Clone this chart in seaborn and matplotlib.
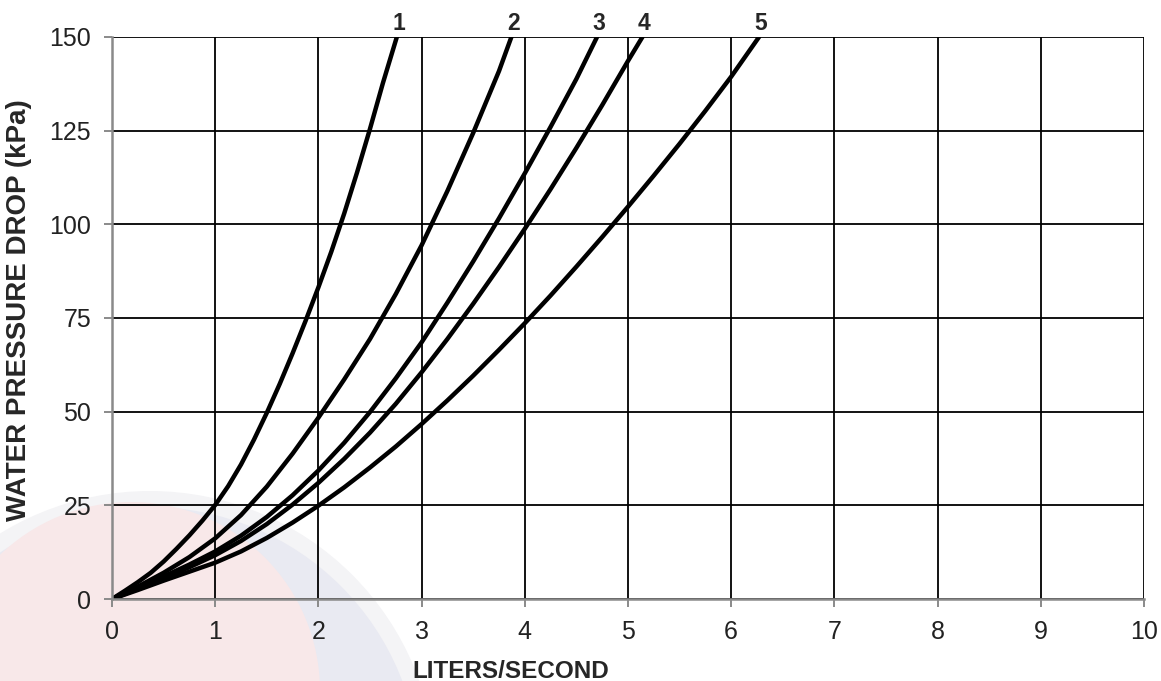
import pandas as pd
import seaborn as sns
import matplotlib.pyplot as plt
from matplotlib.patches import Circle

# curve data (liters/second vs kPa)
x1 = [0, 0.125, 0.25, 0.375, 0.5, 0.625, 0.75, 0.875, 1.0, 1.125, 1.25, 1.375, 1.5,
      1.625, 1.75, 1.875, 2.0, 2.125, 2.25, 2.375, 2.5, 2.625, 2.76]
y1 = [0, 2.2, 4.5, 7, 10, 13.4, 17, 20.9, 25.1, 30.1, 35.9, 42.5, 49.7,
      57.4, 65.6, 74.2, 83.2, 92.7, 102.9, 113.9, 125.5, 137.7, 150]
x2 = [0, 0.25, 0.5, 0.75, 1.0, 1.25, 1.5, 1.75, 2.0, 2.25, 2.5, 2.75, 3.0, 3.25, 3.5, 3.75, 3.87]
y2 = [0, 3.3, 7, 11.2, 16.2, 22.4, 30, 38.8, 48.4, 58.6, 69.4, 81.4, 94.4, 108.9, 124.4, 140.9, 150]
x3 = [0, 0.25, 0.5, 0.75, 1.0, 1.25, 1.5, 1.75, 2.0, 2.25, 2.5, 2.75, 3.0, 3.25, 3.5, 3.75,
      4.0, 4.25, 4.5, 4.7]
y3 = [0, 3, 6, 9.2, 12.7, 16.9, 21.9, 27.7, 34.3, 41.7, 49.9, 58.9, 68.5, 79.1, 90.1, 101.6,
      113.6, 126, 138.8, 150]
x4 = [0, 0.25, 0.5, 0.75, 1.0, 1.25, 1.5, 1.75, 2.0, 2.25, 2.5, 2.75, 3.0, 3.25, 3.5, 3.75,
      4.0, 4.25, 4.5, 4.75, 5.0, 5.14]
y4 = [0, 2.7, 5.5, 8.5, 11.7, 15.5, 20, 25.2, 31, 37.4, 44.4, 52.1, 60.5, 69.4, 78.8, 88.6,
      98.8, 109.4, 120.4, 131.8, 143.6, 150]
x5 = [0, 0.25, 0.5, 0.75, 1.0, 1.25, 1.5, 1.75, 2.0, 2.25, 2.5, 2.75, 3.0, 3.25, 3.5, 3.75,
      4.0, 4.25, 4.5, 4.75, 5.0, 5.25, 5.5, 5.75, 6.0, 6.27]
y5 = [0, 2.4, 4.9, 7.3, 9.7, 12.7, 16.3, 20.4, 24.9, 29.8, 35.1, 40.7, 46.7, 53, 59.6, 66.5,
      73.6, 81, 88.7, 96.6, 104.7, 113, 121.5, 130.3, 139.4, 150]
curve_names = ["1", "2", "3", "4", "5"]

xs = [x1, x2, x3, x4, x5]
ys = [y1, y2, y3, y4, y5]
frames = []
for name, xv, yv in zip(curve_names, xs, ys):
    frames.append(pd.DataFrame({"lps": xv, "kpa": yv, "curve": name}))
df = pd.concat(frames, ignore_index=True)

sns.set_theme(style="white")
plt.rcParams['font.family'] = ['Liberation Sans', 'DejaVu Sans']

fig = plt.figure(figsize=(11.61, 6.81), dpi=100)

# faint logo watermark behind the chart
bg = fig.add_axes([0, 0, 1, 1], zorder=-1)
bg.set_xlim(0, 1161)
bg.set_ylim(681, 0)
bg.axis("off")
bg.add_patch(Circle((150, 777), 286, color="#f4f4f6", lw=0))
bg.add_patch(Circle((150, 777), 270, color="#e9eaf2", lw=0))
bg.add_patch(Circle((131, 691), 189, color="#f8e8e9", lw=0))

ax = fig.add_axes([0.0965, 0.1204, 0.8888, 0.8253])
ax.set_facecolor("none")

sns.lineplot(data=df, x="lps", y="kpa", hue="curve", palette=["black"] * 5,
             sort=False, estimator=None, legend=False, linewidth=3.2, ax=ax)
for ln in ax.lines:
    ln.set_solid_joinstyle("round")

ax.set_xlim(0, 10)
ax.set_ylim(0, 150)
ax.set_xticks(range(0, 11))
ax.set_yticks(range(0, 151, 25))
ax.grid(True, color="black", linewidth=1.3)
ax.set_axisbelow(True)

for s in ["top", "right"]:
    ax.spines[s].set_visible(False)
for s in ["left", "bottom"]:
    ax.spines[s].set_color("#8a8a8a")
    ax.spines[s].set_linewidth(1.8)
    ax.spines[s].set_zorder(3)
ax.tick_params(axis="both", direction="out", length=6, width=1.4, color="#8a8a8a",
               labelsize=18, labelcolor="#222222", pad=9, left=True, bottom=True)

ax.set_xlabel("LITERS/SECOND", fontsize=17.5, fontweight="bold")
ax.set_ylabel("WATER PRESSURE DROP (kPa)", fontsize=20, fontweight="bold")
ax.xaxis.set_label_coords(0.386, -0.108)
ax.yaxis.set_label_coords(-0.0775, 0.514)

for name, xv in zip(curve_names, xs):
    ax.text(xv[-1] + 0.02, 151.9, name, ha="center", va="baseline",
            fontsize=16.5, fontweight="bold", clip_on=False)

fig.savefig("out.png", dpi=100)
